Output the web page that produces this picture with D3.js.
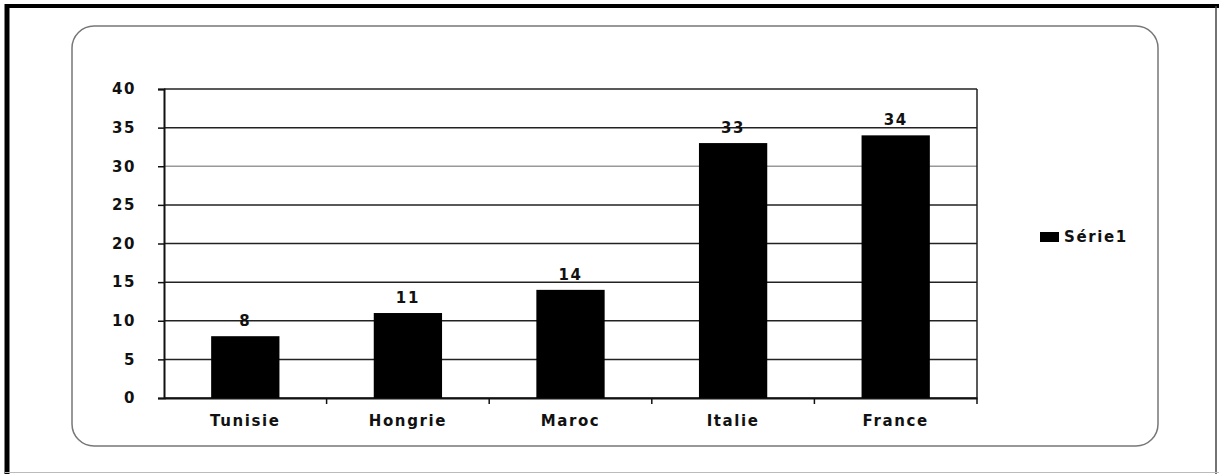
<!DOCTYPE html>
<html>
<head>
<meta charset="utf-8">
<script src="https://cdn.jsdelivr.net/npm/d3@7"></script>
<style>
  body { margin: 0; background: #fff; }
  text { font-family: "DejaVu Sans", Verdana, sans-serif; font-weight: bold; fill: #111; letter-spacing: 1.6px; }
</style>
</head>
<body>
<svg id="chart" width="1219" height="474"></svg>
<script>
// data
let countries = ["Tunisie", "Hongrie", "Maroc", "Italie", "France"];
let values = [8, 11, 14, 33, 34];
let yTicks = [0, 5, 10, 15, 20, 25, 30, 35, 40];
let seriesName = "Série1";

let svg = d3.select("#chart");

// outer frame
svg.append("line").attr("x1", 7).attr("y1", 4).attr("x2", 7).attr("y2", 474)
    .attr("stroke", "#000").attr("stroke-width", 5);
svg.append("line").attr("x1", 5).attr("y1", 6).attr("x2", 1219).attr("y2", 6)
    .attr("stroke", "#000").attr("stroke-width", 4);
svg.append("line").attr("x1", 1216).attr("y1", 6).attr("x2", 1216).attr("y2", 474)
    .attr("stroke", "#444").attr("stroke-width", 1.5);
svg.append("line").attr("x1", 5).attr("y1", 472.5).attr("x2", 1219).attr("y2", 472.5)
    .attr("stroke", "#bbb").attr("stroke-width", 1);

// rounded chart area
svg.append("rect")
    .attr("x", 72).attr("y", 26).attr("width", 1086).attr("height", 420)
    .attr("rx", 22).attr("ry", 22)
    .attr("fill", "none").attr("stroke", "#777").attr("stroke-width", 1.5);

let margin = {left: 164, top: 89, right: 977, bottom: 398};

let x = d3.scaleBand()
    .domain(countries)
    .range([margin.left, margin.right])
    .paddingInner(0.58)
    .paddingOuter(0.29);

let xBand = d3.scaleBand().domain(countries).range([margin.left, margin.right]);

let y = d3.scaleLinear()
    .domain([0, 40])
    .range([margin.bottom, margin.top]);

// gridlines
svg.append("g")
    .selectAll("line")
    .data(yTicks)
    .enter().append("line")
    .attr("x1", margin.left).attr("x2", margin.right)
    .attr("y1", d => y(d)).attr("y2", d => y(d))
    .attr("stroke", d => d === 30 ? "#999" : "#222")
    .attr("stroke-width", 1.5);

// right border of plot
svg.append("line")
    .attr("x1", margin.right).attr("x2", margin.right)
    .attr("y1", margin.top).attr("y2", margin.bottom)
    .attr("stroke", "#222").attr("stroke-width", 1.5);

// y axis
let yAxis = d3.axisLeft(y).tickValues(yTicks).tickSize(6).tickPadding(22);
let yg = svg.append("g")
    .attr("transform", `translate(${margin.left},0)`)
    .call(yAxis);
yg.select(".domain").attr("stroke", "#111").attr("stroke-width", 2);
yg.selectAll(".tick line").attr("stroke", "#111").attr("stroke-width", 1.5);
yg.selectAll(".tick text").attr("font-size", 15).attr("fill", "#111")
    .attr("font-family", "DejaVu Sans").attr("font-weight", "bold");

// x axis
let xAxis = d3.axisBottom(xBand).tickSize(0).tickPadding(17);
let xg = svg.append("g")
    .attr("transform", `translate(0,${margin.bottom})`)
    .call(xAxis);
xg.select(".domain").attr("stroke", "#111").attr("stroke-width", 2);
xg.selectAll(".tick text").attr("font-size", 15).attr("fill", "#111")
    .attr("font-family", "DejaVu Sans").attr("font-weight", "bold");

// category separator ticks
svg.append("g")
    .selectAll("line")
    .data(countries)
    .enter().append("line")
    .attr("x1", d => xBand(d) + xBand.bandwidth())
    .attr("x2", d => xBand(d) + xBand.bandwidth())
    .attr("y1", margin.bottom).attr("y2", margin.bottom + 6)
    .attr("stroke", "#111").attr("stroke-width", 1.5);

// bars
svg.append("g")
    .selectAll("rect")
    .data(values)
    .enter().append("rect")
    .attr("x", (d, i) => x(countries[i]))
    .attr("y", d => y(d))
    .attr("width", x.bandwidth())
    .attr("height", d => y(0) - y(d))
    .attr("fill", "#000");

// value labels
svg.append("g")
    .selectAll("text")
    .data(values)
    .enter().append("text")
    .attr("x", (d, i) => x(countries[i]) + x.bandwidth() / 2)
    .attr("y", d => y(d) - 10)
    .attr("text-anchor", "middle")
    .attr("font-size", 15)
    .text(d => d);

// legend
svg.append("rect")
    .attr("x", 1040).attr("y", 232).attr("width", 19).attr("height", 10)
    .attr("fill", "#000");
svg.append("text")
    .attr("x", 1064).attr("y", 242)
    .attr("font-size", 15)
    .text(seriesName);
</script>
</body>
</html>
